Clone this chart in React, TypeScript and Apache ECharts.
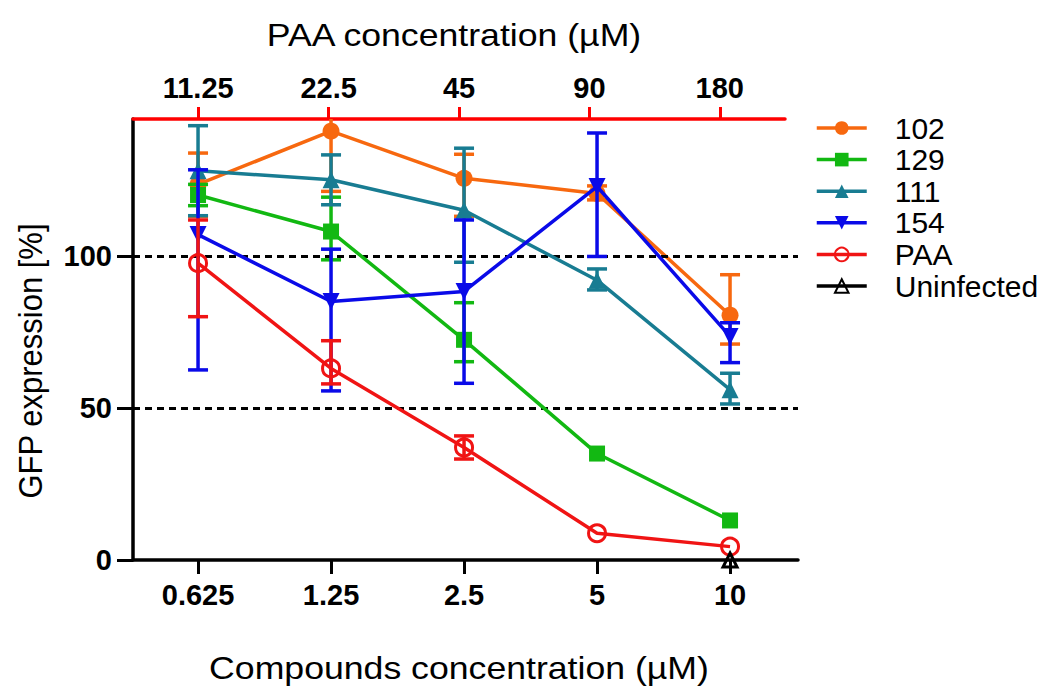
import React, { useEffect, useRef } from "react";
import * as echarts from "echarts";

// ---- data ----
const categories = ["0.625", "1.25", "2.5", "5", "10"];
const paaTicks = ["11.25", "22.5", "45", "90", "180"];
const yTicks = [0, 50, 100];
const thresholds = [50, 100];

const names = ["102", "129", "111", "154", "PAA", "Uninfected"];

const s102 = [123.5, 141, 125.5, 120.5, 80.5];
const s102Upper = [133.8, 161, 133.4, 123, 93.8];
const s102Lower = [113, 121.2, 113, 118.4, 71];

const s129 = [120, 108, 72.4, 35, 13];
const s129Upper = [123.5, 119.3, 84.6, 35, 13];
const s129Lower = [116.5, 98.7, 65.2, 35, 13];

const s111 = [128, 125, 115, 92, 56];
const s111Upper = [142.8, 133.2, 135.4, 95.7, 61.4];
const s111Lower = [113.2, 116.8, 97.9, 88.8, 51.3];

const s154 = [107, 85, 88.3, 122.8, 73.5];
const s154Upper = [128.3, 102.2, 111.8, 140.4, 78];
const s154Lower = [62.5, 55.6, 58.1, 99.8, 64.9];

const sPAA = [97.6, 63, 37, 8.8, 4.4];
const sPAAUpper = [111.8, 72.1, 40.8, 8.8, 4.4];
const sPAALower = [80, 57.9, 33.2, 8.8, 4.4];

const sUninfected = [null, null, null, null, 0];

const FONT = "'Liberation Sans', Arial, Helvetica, sans-serif";

const COLORS = {
  c102: "#F7680F",
  c129: "#12B812",
  c111: "#187C92",
  c154: "#0A0AE8",
  cPAA: "#F01414",
  cUn: "#000000",
};

const TRI_DOWN = "path://M0,0L20,0L10,17.3Z";
const LW = 3.5;

function errSeries(name: string, color: string, lower: number[], upper: number[], z: number) {
  return {
    type: "custom",
    name: name + "-err",
    xAxisIndex: 0,
    yAxisIndex: 0,
    clip: true,
    z,
    silent: true,
    data: lower.map((l, i) => [i, l, upper[i]]),
    encode: { x: 0, y: [1, 2] },
    renderItem: (params: any, api: any) => {
      const lo = api.value(1);
      const hi = api.value(2);
      if (lo === hi) return null;
      const pLo = api.coord([api.value(0), lo]);
      const pHi = api.coord([api.value(0), hi]);
      const hw = 10;
      const style = { stroke: color, lineWidth: LW, fill: null };
      return {
        type: "group",
        children: [
          { type: "line", shape: { x1: pHi[0], y1: pHi[1], x2: pLo[0], y2: pLo[1] }, style },
          { type: "line", shape: { x1: pHi[0] - hw, y1: pHi[1], x2: pHi[0] + hw, y2: pHi[1] }, style },
          { type: "line", shape: { x1: pLo[0] - hw, y1: pLo[1], x2: pLo[0] + hw, y2: pLo[1] }, style },
        ],
      };
    },
  };
}

function lineSeries(name: string, color: string, values: (number | null)[], symbol: string, size: number, z: number, open = false) {
  return {
    type: "line",
    name,
    xAxisIndex: 0,
    yAxisIndex: 0,
    clip: false,
    z,
    data: values.map((v, i) => [i, v]),
    symbol,
    symbolSize: size,
    showAllSymbol: true,
    lineStyle: { color, width: LW },
    itemStyle: open
      ? { color: "rgba(255,255,255,0)", borderColor: color, borderWidth: 3 }
      : { color, borderWidth: 0 },
  };
}

export default function App() {
  const ref = useRef<HTMLDivElement>(null);

  useEffect(() => {
    if (!ref.current) return;
    const chart = echarts.init(ref.current, undefined, { renderer: "svg" });

    const option: any = {
      animation: false,
      backgroundColor: "#ffffff",
      grid: [
        { left: 133, top: 119, width: 665, height: 441 },
        { left: 133, top: 119, width: 652, height: 441 },
      ],
      xAxis: [
        {
          type: "value",
          gridIndex: 0,
          position: "bottom",
          min: -0.489,
          max: 4.511,
          axisLine: { show: true, onZero: false, lineStyle: { color: "#000", width: 3.5 } },
          axisTick: { show: true, length: 14, customValues: [0, 1, 2, 3, 4], lineStyle: { color: "#000", width: 3 } },
          axisLabel: {
            customValues: [0, 1, 2, 3, 4],
            formatter: (v: number) => categories[Math.round(v)],
            fontFamily: FONT,
            fontWeight: "bold",
            fontSize: 29,
            color: "#000",
            margin: 20,
          },
          splitLine: { show: false },
        },
        {
          type: "category",
          gridIndex: 1,
          position: "top",
          data: paaTicks,
          boundaryGap: true,
          axisLine: { show: true, onZero: false, lineStyle: { color: "#FF0000", width: 3.5 } },
          axisTick: { show: true, alignWithLabel: true, length: 12, lineStyle: { color: "#FF0000", width: 3 } },
          axisLabel: {
            fontFamily: FONT,
            fontWeight: "bold",
            fontSize: 29,
            color: "#000",
            margin: 17,
          },
          splitLine: { show: false },
        },
      ],
      yAxis: [
        {
          type: "value",
          gridIndex: 0,
          position: "left",
          min: 0,
          max: 145,
          axisLine: { show: true, onZero: false, lineStyle: { color: "#000", width: 3.5 } },
          axisTick: { show: true, length: 16, customValues: yTicks, lineStyle: { color: "#000", width: 3 } },
          axisLabel: {
            customValues: yTicks,
            fontFamily: FONT,
            fontWeight: "bold",
            fontSize: 29,
            color: "#000",
            margin: 21,
          },
          splitLine: { show: false },
        },
        {
          type: "value",
          gridIndex: 1,
          min: 0,
          max: 145,
          show: false,
        },
      ],
      legend: {
        orient: "vertical",
        left: 815,
        top: 113,
        padding: 0,
        itemGap: 1.6,
        itemWidth: 50,
        itemHeight: 17,
        data: names,
        lineStyle: { width: 3.5 },
        textStyle: {
          fontFamily: FONT,
          fontSize: 30,
          color: "#000",
          lineHeight: 30,
          padding: [0, 0, 0, 23],
        },
      },
      graphic: [
        {
          type: "text",
          x: 454,
          y: 35,
          scaleX: 1.15,
          style: {
            text: "PAA concentration (µM)",
            fontFamily: FONT,
            fontSize: 31,
            fill: "#000",
            align: "center",
            verticalAlign: "middle",
          },
        },
        {
          type: "text",
          x: 459,
          y: 668,
          scaleX: 1.15,
          style: {
            text: "Compounds concentration (µM)",
            fontFamily: FONT,
            fontSize: 31,
            fill: "#000",
            align: "center",
            verticalAlign: "middle",
          },
        },
        {
          type: "text",
          x: 30,
          y: 361,
          rotation: Math.PI / 2,
          scaleY: 1.1,
          style: {
            text: "GFP expression [%]",
            fontFamily: FONT,
            fontSize: 31,
            fill: "#000",
            align: "center",
            verticalAlign: "middle",
          },
        },
      ],
      series: [
        {
          type: "line",
          name: "thresholds",
          xAxisIndex: 0,
          yAxisIndex: 0,
          data: [],
          z: 1,
          markLine: {
            silent: true,
            symbol: "none",
            label: { show: false },
            lineStyle: { color: "#000", width: 3, type: [7, 5] },
            data: thresholds.map((t) => ({ yAxis: t })),
          },
        },
        errSeries("102", COLORS.c102, s102Lower, s102Upper, 2),
        lineSeries("102", COLORS.c102, s102, "circle", 17, 3),
        errSeries("129", COLORS.c129, s129Lower, s129Upper, 4),
        lineSeries("129", COLORS.c129, s129, "rect", 16, 5),
        errSeries("111", COLORS.c111, s111Lower, s111Upper, 6),
        lineSeries("111", COLORS.c111, s111, "triangle", 17, 7),
        errSeries("154", COLORS.c154, s154Lower, s154Upper, 8),
        lineSeries("154", COLORS.c154, s154, TRI_DOWN, 17, 9),
        errSeries("PAA", COLORS.cPAA, sPAALower, sPAAUpper, 10),
        lineSeries("PAA", COLORS.cPAA, sPAA, "circle", 17, 11, true),
        lineSeries("Uninfected", COLORS.cUn, sUninfected, "triangle", 14, 12, true),
      ],
    };

    chart.setOption(option);
    return () => chart.dispose();
  }, []);

  return (
    <div
      ref={ref}
      style={{ position: "fixed", left: 0, top: 0, width: 1062, height: 689, background: "#fff" }}
    />
  );
}
